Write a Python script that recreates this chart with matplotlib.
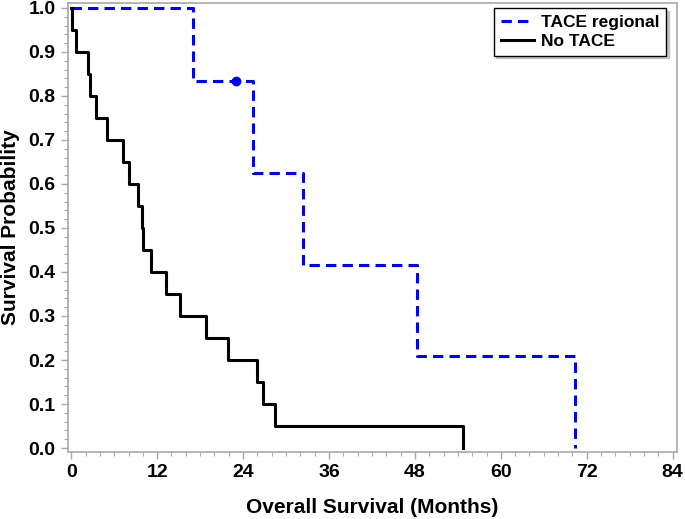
import matplotlib
matplotlib.use("Agg")

import matplotlib.pyplot as plt
import numpy as np

plt.rcParams.update({
    "font.family": ["Liberation Sans", "DejaVu Sans"],
    "font.weight": "bold",
    "font.size": 12,
})

# Kaplan-Meier steps (months, survival probability)
tace_time = [0, 17.0, 25.4, 32.4, 48.3, 70.3]
tace_surv = [1.0, 0.833, 0.625, 0.417, 0.208, 0.0]
tace_censor_time = [23.0]
tace_censor_surv = [0.833]

notace_time = [0, 0.1, 0.7, 2.4, 2.6, 3.4, 5.0, 7.2, 8.1, 9.35, 9.85, 10.05,
               11.1, 13.2, 15.2, 18.8, 21.9, 26.0, 26.8, 28.4, 54.7]
notace_surv = [1.0, 0.95, 0.90, 0.85, 0.80, 0.75, 0.70, 0.65, 0.60, 0.55, 0.50,
               0.45, 0.40, 0.35, 0.30, 0.25, 0.20, 0.15, 0.10, 0.05, 0.0]

x_ticks = [0, 12, 24, 36, 48, 60, 72, 84]
y_ticks = np.round(np.arange(0, 1.01, 0.1), 1)

BLUE = "#0000ff"
GRAY = "#a8a8a8"

fig = plt.figure(figsize=(6.85, 5.19), dpi=100)
ax = fig.add_axes([0.0993, 0.1291, 0.889, 0.865])

ax.step(tace_time, tace_surv, where="post", color=BLUE, lw=2.2,
        dashes=(3.4, 2.0), label="TACE regional")
ax.plot(tace_censor_time, tace_censor_surv, "o", color=BLUE, ms=6)
ax.step(notace_time, notace_surv, where="post", color="black", lw=2.2,
        label="No TACE")

ax.set_xlim(-0.45, 84.6)
ax.set_ylim(-0.009, 1.011)
ax.set_xticks(x_ticks)
ax.set_yticks(y_ticks)
ax.set_yticklabels([f"{v:.1f}" for v in y_ticks])
ax.set_xticks(np.arange(0, 85, 2), minor=True)
ax.set_yticks(np.arange(0, 1.001, 0.02), minor=True)

for s in ax.spines.values():
    s.set_color(GRAY)
    s.set_linewidth(1.2)
ax.tick_params(which="major", length=5, width=1, color=GRAY, labelsize=14, pad=4)
ax.tick_params(which="minor", length=3, width=0.8, color=GRAY)

ax.set_xlabel("Overall Survival (Months)", fontsize=15, fontweight="bold", labelpad=12)
ax.set_ylabel("Survival Probability", fontsize=15, fontweight="bold", labelpad=6)

leg = ax.legend(loc="upper right", bbox_to_anchor=(0.982, 0.989), borderaxespad=0,
                fancybox=False, shadow={"color": "#c4c4c4", "alpha": 1},
                edgecolor="black", framealpha=1, fontsize=12.5,
                handlelength=1.9, handletextpad=0.4, borderpad=0.4,
                labelspacing=0.2)
leg.get_frame().set_linewidth(1.0)

fig.savefig("out.png", dpi=100)
